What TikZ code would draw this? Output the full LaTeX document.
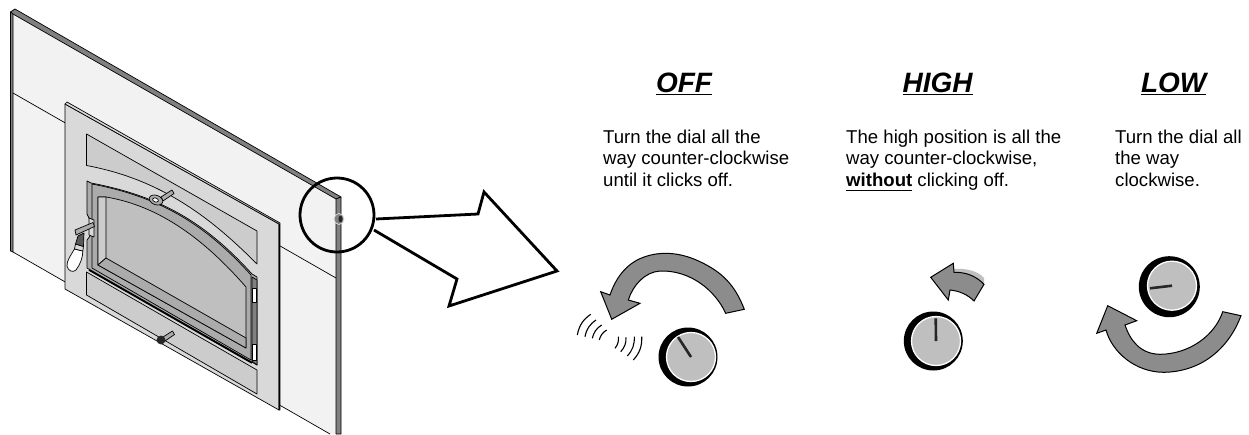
\documentclass[tikz,border=0pt]{standalone}
\usepackage{fontspec}
\setmainfont{Liberation Sans}
\usetikzlibrary{positioning,calc}
\definecolor{wall}{HTML}{F2F2F2}
\definecolor{plate}{HTML}{D9D9D9}
\definecolor{inset}{HTML}{CCCCCC}
\definecolor{frame}{HTML}{ABABAB}
\definecolor{glass}{HTML}{BFBFBF}
\definecolor{band}{HTML}{808080}
\definecolor{turn}{HTML}{8C8C8C}
\newcommand{\barred}[3]{\setbox0\hbox{#3}\leavevmode\rlap{\rule[-#1]{\wd0}{#2}}\box0\relax}

\begin{document}
\begin{tikzpicture}[x=1pt,y=-1pt,
  every node/.style={inner sep=0pt},
  outline/.style={draw=black, line width=0.7pt, line join=round},
  edge/.style={draw=black, fill=band, line width=0.7pt, line join=round},
  turnarrow/.style={draw=black, fill=turn, line width=1pt, line join=miter},
  dialrim/.style={circle, fill=black, minimum size=59pt},
  dialface/.style={circle, fill=glass, draw=white, line width=1.3pt, minimum size=49pt},
  pointer/.style={draw=black!85, line width=2.6pt},
  click/.style={draw=black, line width=1.1pt},
  heading/.style={font=\fontsize{28}{32}\selectfont\bfseries\itshape, anchor=base},
  body/.style={font=\fontsize{18.6}{21}\selectfont, align=left, anchor=north west},
]
\useasboundingbox (0,0) rectangle (1249,434);

% wall panel
\fill[wall] (13,14) -- (336,199) -- (336,434) -- (330,434) -- (13,252) -- cycle;
\draw[edge] (10.5,12) -- (15,9) -- (341,197) -- (336,199) -- (13,14) -- cycle;
\draw[edge] (336,199) -- (341,197) -- (341,434) -- (336,434) -- cycle;
\draw[edge] (10.5,12) -- (13,14) -- (13,252) -- (10.5,251) -- cycle;
\draw[outline] (13,252) -- (330,434);
\draw[outline] (13,93) -- (336,278);

% insert plate
\draw[outline, fill=plate] (65,104) -- (279,224) -- (279,410) -- (65,289) -- cycle;
\draw[outline, fill=plate] (65,104) -- (67,102) -- (280,223) -- (280,410) -- (279,410) -- (279,224) -- cycle;
\draw[outline, fill=inset] (86.5,134) -- (257,231) -- (257,264)
  .. controls (215,222) and (165,180) .. (86.5,165.5) -- cycle;
\draw[outline, fill=inset] (86.5,272) -- (257,370) -- (257,394) -- (86.5,295) -- cycle;

% door
\draw[outline, fill=frame] (87,181) -- (91,183) .. controls (160,196) and (205,222) .. (252,274)
  -- (257,277) -- (257,365) -- (87,268) -- (87,240) -- (90,236) -- (90,220) -- (87,214) -- cycle;
\draw[outline, fill=frame] (92,184) .. controls (160,197) and (205,224) .. (251,275)
  -- (251,360) -- (92,268) -- cycle;
\draw[outline, fill=glass] (98,197) -- (106,197) .. controls (160,206) and (205,240) .. (246,287)
  -- (246,348) -- (98,265) -- cycle;
\draw[outline, fill=inset] (98,197) -- (106,197) -- (106,258) -- (98,265) -- cycle;
\draw[outline, fill=frame] (106,258) -- (246,338) -- (246,348) -- (98,265) -- cycle;
\draw[draw=black, line width=1.6pt] (89,270) -- (252,363);

% hinges
\draw[outline, fill=band] (252,277) -- (257,280) -- (257,365) -- (252,361) -- cycle;
\draw[outline, fill=white] (252.5,288) rectangle (256.5,302);
\draw[outline, fill=white] (252.5,344) rectangle (256.5,360);

% top latch
\draw[outline, fill=frame] (161,197) -- (172,190) -- (174,193.5) -- (163,201) -- cycle;
\draw[outline, fill=frame] (156,200) ellipse[x radius=7, y radius=4.7, rotate=-20];
\draw[outline, fill=white] (155.5,200) ellipse[x radius=3, y radius=2, rotate=-20];

% handle
\draw[outline, fill=plate] (89,218) -- (94,220) -- (94,237) -- (89,235) -- cycle;
\draw[outline, fill=white] (74.5,249) .. controls (71,255) and (66.5,261) .. (67,266)
  .. controls (68,271) and (73,273) .. (76,270) .. controls (80,265) and (83,257) .. (82.8,251) -- cycle;
\draw[outline, fill=plate] (75.5,244) -- (83.5,246.5) -- (82.8,251) -- (74.5,249) -- cycle;
\draw[outline, fill=black!65] (78,236) -- (84,233) -- (83.5,246.5) -- (75.5,244) -- cycle;
\draw[outline, fill=frame] (75,230) -- (93,222.5) -- (94.5,226.5) -- (76,235) -- cycle;

% bottom knob
\draw[outline, fill=frame] (163,337) -- (172.5,331) -- (174.5,334.5) -- (165,341) -- cycle;
\fill[black!85] (161,340) circle[radius=4.4];

% little knob on the wall edge
\draw[draw=plate, line width=0.8pt, fill=band] (339,219) ellipse[x radius=5, y radius=5.5];
\fill[black!85] (340.5,219) ellipse[x radius=2, y radius=3.4];

% callout
\node[circle, draw=black, line width=2.8pt, minimum size=74pt] (ring) at (337,215) {};
\draw[draw=black, line width=2.8pt, line join=miter]
  (376,219) -- (478,214) -- (484,192) -- (557,271) -- (449,306) -- (457,279) -- (374,230);

% OFF
\node[heading] (offhead) at (684,92) {\barred{3.2pt}{1.5pt}{OFF}};
\node[body] (offtext) at (603,129.7) {Turn the dial all the\\way counter-clockwise\\[1pt]until it clicks off.};
\draw[turnarrow] (725.7,313.3) -- (744.3,309.3)
  .. controls (735,285) and (722,272) .. (700,261.7)
  .. controls (680,252) and (660,251) .. (643.3,257.3)
  .. controls (625,264) and (615,280) .. (610,295)
  -- (600.7,291.7) -- (611.7,319.3) -- (640,303.3) -- (628.3,300)
  .. controls (633,285) and (645,272) .. (660,271)
  .. controls (690,270) and (715,290) .. (725.7,313.3) -- cycle;
\draw[click] (577.3,335) to[bend left=22] (590.7,314.3);
\draw[click] (585,336.7) to[bend left=22] (596,320);
\draw[click] (592.3,338.3) to[bend left=22] (601.7,325);
\draw[click] (599.3,340) to[bend left=22] (606.7,330);
\draw[click] (615,348.3) to[bend right=22] (618.3,336.7);
\draw[click] (620.7,351.7) to[bend right=22] (626,337.3);
\draw[click] (627.3,356) to[bend right=22] (634.3,336.7);
\draw[click] (633.3,360) to[bend right=22] (641.7,336.7);
\node[dialrim] (offrim) at (688,357) {};
\node[dialface] (offface) at (691,357) {};
\coordinate (offtip) at (678,337);
\draw[pointer] (offtip) -- (offface.center);

% HIGH
\node[heading] (highhead) at (937.7,92) {\barred{3.2pt}{1.5pt}{HIGH}};
\node[body] (hightext) at (846,129.7) {The high position is all the\\way counter-clockwise,\\[1pt]\barred{4.7pt}{1.4pt}{\textbf{without}} clicking off.};
\fill[glass] (954,269) .. controls (966,268) and (978,271) .. (984,278) -- (984,285) -- (954,274) -- cycle;
\draw[turnarrow] (930.7,277.3) -- (953.3,263.3) -- (954,272.3)
  .. controls (966,272) and (976,276) .. (984,284.3) -- (974,301)
  .. controls (968,295) and (960,291) .. (950,290) -- (948.3,300) -- cycle;
\node[dialrim] (highrim) at (933.3,341) {};
\node[dialface] (highface) at (936,341) {};
\coordinate (hightip) at (935.7,318.3);
\draw[pointer] (hightip) -- (highface.center);

% LOW
\node[heading] (lowhead) at (1173.7,92) {\barred{3.2pt}{1.5pt}{LOW}};
\node[body] (lowtext) at (1115,129.7) {Turn the dial all\\the way\\[1pt]clockwise.};
\draw[turnarrow] (1241,315.7) -- (1222.7,311.7)
  .. controls (1215,335) and (1190,354) .. (1160,354.3)
  .. controls (1140,354) and (1130,340) .. (1125,325)
  -- (1136.7,320.7) -- (1107.7,305.7) -- (1096.7,333.3) -- (1106,330)
  .. controls (1112,352) and (1135,372) .. (1163.3,372.3)
  .. controls (1200,372) and (1228,350) .. (1241,315.7) -- cycle;
\node[dialrim, minimum size=61pt] (lowrim) at (1169.3,286.7) {};
\node[dialface] (lowface) at (1172,285.7) {};
\coordinate (lowtip) at (1150,288.3);
\draw[pointer] (lowtip) -- (lowface.center);

\end{tikzpicture}
\end{document}
